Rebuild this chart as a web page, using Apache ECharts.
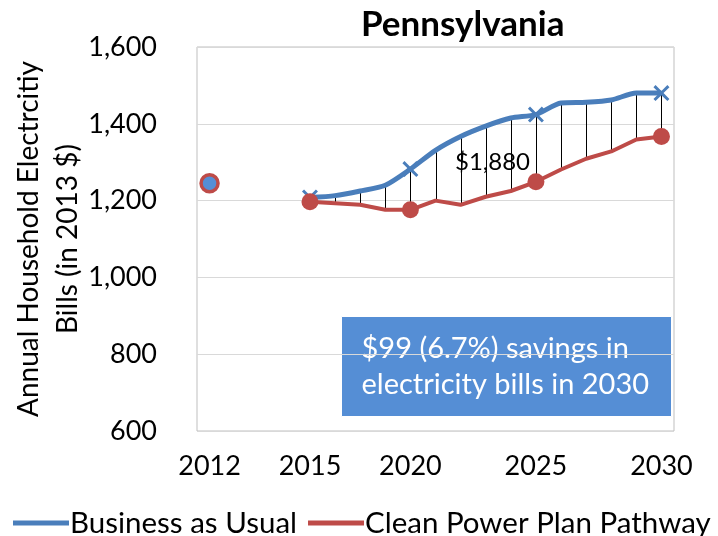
<!DOCTYPE html>
<html><head><meta charset="utf-8">
<script src="https://cdn.jsdelivr.net/npm/echarts@6/dist/echarts.min.js"></script>
<style>html,body{margin:0;padding:0;background:#fff}#c{width:718px;height:536px}</style>
</head><body><div id="c"></div>
<script>
// Category slots (one per plotted year position); only some are labelled
const xLabels = ['2012','','','','2015','','','','2020','','','','','2025','','','','','2030'];
// Business as Usual (blue)
const bau = [null,null,null,null,1208,1213,1225,1240,1282,1331,1367,1394,1415,1424,1454,1456,1462,1480,1480];
// Clean Power Plan Pathway (red)
const cpp = [null,null,null,null,1197,1193,1189,1176,1176,1200,1189,1210,1225,1249,1281,1309,1328,1359,1367];
// 2012 historical point
const hist = [1245,null,null,null,null,null,null,null,null,null,null,null,null,null,null,null,null,null,null];
const markerIdx = [4,8,13,18];
const cumulativeLabel = '$1,880';
const savingsText = ['$99 (6.7%) savings in', 'electricity bills in 2030'];

const FONT = 'Lato';
const dropData = [];
for (let i = 0; i < xLabels.length; i++) {
  if (bau[i] != null && cpp[i] != null) dropData.push([i, bau[i], cpp[i]]);
}
const xPath = 'path://M0,1.3L1.3,0L5,3.7L8.7,0L10,1.3L6.3,5L10,8.7L8.7,10L5,6.3L1.3,10L0,8.7L3.7,5Z';

const chart = echarts.init(document.getElementById('c'), null, {renderer: 'canvas'});
chart.setOption({
  animation: false,
  backgroundColor: '#fff',
  textStyle: {fontFamily: FONT},
  title: {
    text: 'Pennsylvania', left: 356, top: 2,
    textStyle: {fontFamily: FONT, fontWeight: 'bold', fontSize: 35, color: '#000'}
  },
  grid: {left: 197, right: 44, top: 47, bottom: 105, show: true, borderColor: '#bfbfbf', borderWidth: 1,
    containLabel: false, outerBoundsMode: 'none'},
  legend: {
    left: 8, top: 503, itemWidth: 56, itemHeight: 5, itemGap: 11, icon: 'rect',
    data: ['Business as Usual', 'Clean Power Plan Pathway'],
    textStyle: {fontFamily: FONT, fontSize: 29.5, color: '#000', padding: [0,0,0,-4]}
  },
  xAxis: {
    type: 'category', data: xLabels, boundaryGap: true,
    axisLine: {show: false}, axisTick: {show: false},
    axisLabel: {interval: 0, margin: 22, fontFamily: FONT, fontSize: 27, color: '#000'},
    splitLine: {show: false}
  },
  yAxis: {
    type: 'value', min: 600, max: 1600, interval: 200,
    axisLine: {show: false}, axisTick: {show: false},
    axisLabel: {margin: 40, fontFamily: FONT, fontSize: 27, color: '#000',
      formatter: v => v.toLocaleString('en-US')},
    splitLine: {lineStyle: {color: '#d9d9d9', width: 1}},
    name: 'Annual Household Electrcitiy\nBills (in 2013 $)',
    nameLocation: 'middle', nameRotate: 90, nameGap: 110, nameMoveOverlap: false,
    nameTextStyle: {fontFamily: FONT, fontSize: 28, color: '#000', lineHeight: 39}
  },
  series: [
    {
      type: 'custom', name: 'drop', z: 1, silent: true,
      data: dropData,
      renderItem: (params, api) => {
        const p1 = api.coord([api.value(0), api.value(1)]);
        const p2 = api.coord([api.value(0), api.value(2)]);
        return {type: 'line', shape: {x1: Math.round(p1[0]) + 0.5, y1: p1[1], x2: Math.round(p2[0]) + 0.5, y2: p2[1]},
          style: {stroke: '#000', lineWidth: 1}};
      }
    },
    {
      type: 'line', name: 'Business as Usual', data: bau, z: 3, smooth: 0.25,
      connectNulls: false, symbol: xPath,
      symbolSize: (v, p) => markerIdx.includes(p.dataIndex) ? 16 : 0,
      showSymbol: true,
      lineStyle: {color: '#4A7EBB', width: 5},
      itemStyle: {color: '#4A7EBB'}
    },
    {
      type: 'line', name: 'Clean Power Plan Pathway', data: cpp, z: 4,
      connectNulls: false, symbol: 'circle',
      symbolSize: (v, p) => markerIdx.includes(p.dataIndex) ? 17 : 0,
      showSymbol: true,
      lineStyle: {color: '#BE4B48', width: 4},
      itemStyle: {color: '#BE4B48'}
    },
    {
      type: 'line', name: '2012', data: hist, z: 5,
      symbol: 'circle', symbolSize: 17, showSymbol: true,
      lineStyle: {width: 0},
      itemStyle: {color: '#558ED5', borderColor: '#BE4B48', borderWidth: 3.5}
    }
  ],
  graphic: [
    {
      type: 'group', left: 445, top: 140, z: 100,
      children: [
        {type: 'rect', shape: {x: 0, y: 0, width: 95, height: 43}, style: {fill: '#fff'}},
        {type: 'text', x: 47.5, y: 22, style: {text: cumulativeLabel, fill: '#000', font: '24px ' + FONT, align: 'center', verticalAlign: 'middle'}}
      ]
    },
    {
      type: 'group', left: 341, top: 316, z: 100,
      children: [
        {type: 'rect', shape: {x: 0, y: 0, width: 330, height: 100}, style: {fill: '#558ED5', stroke: '#ffffff', lineWidth: 1}},
        {type: 'text', x: 20, y: 32, style: {text: savingsText[0], fill: '#fff', font: '29px ' + FONT, verticalAlign: 'middle'}},
        {type: 'text', x: 20, y: 68, style: {text: savingsText[1], fill: '#fff', font: '29px ' + FONT, verticalAlign: 'middle'}}
      ]
    }
  ]
});
</script></body></html>
